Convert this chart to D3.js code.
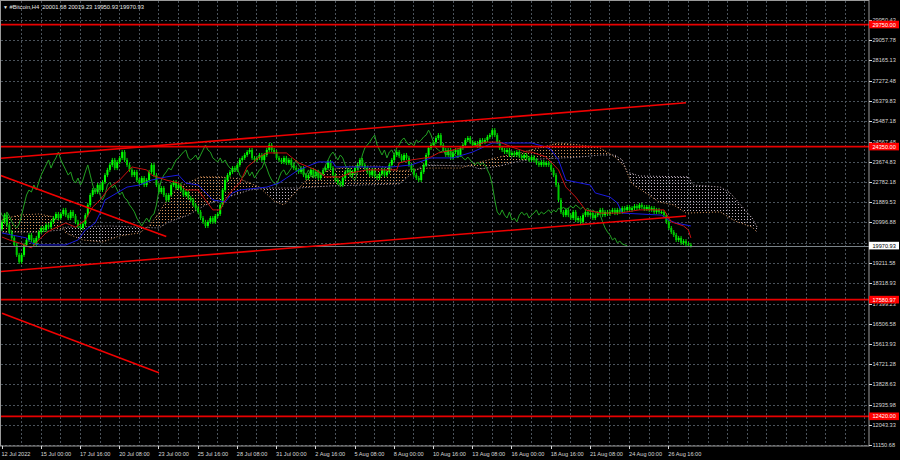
<!DOCTYPE html>
<html><head><meta charset="utf-8">
<script src="https://cdn.jsdelivr.net/npm/d3@7/dist/d3.min.js"></script>
<style>
html,body{margin:0;padding:0;background:#000;}
svg{display:block;}
text{font-family:"Liberation Sans",Arial,sans-serif;}
</style></head><body>
<svg id="c" width="900" height="460"></svg>
<script>
// ---------------- DATA ----------------
const symbolName = "#Bitcoin,H4";
const lastBarOHLC = ["20001.68", "20019.23", "19950.93", "19970.93"];
const firstOpen = 20700;
// H4 closes, 12 Jul 2022 08:00 onward (282 bars)
const closes = [
21020,21320,20880,20570,20310,20000,19560,19250,19560,20000,
20220,20440,20220,20000,20310,20570,20750,20660,20880,20790,
21020,21190,21370,21190,21370,21550,21320,21190,21460,21280,
21020,20840,20750,20930,21320,21770,22210,22430,22340,22650,
22430,22780,23090,23320,23540,23760,23400,23670,23850,24110,
23760,23540,23320,23090,23230,22870,22740,22960,22650,22870,
23230,23540,23090,22650,22340,22520,22210,21990,22210,22650,
22780,22520,22650,22430,22210,22340,22080,21990,21770,21630,
21460,21190,21020,20840,21020,21190,21020,21280,21370,21770,
22430,22870,23090,23230,23400,23320,23540,23760,23850,23980,
24110,24200,23850,23760,23850,23980,23760,23980,24200,24420,
24200,24110,23850,23760,23670,23850,23630,23760,23540,23400,
23320,23230,23400,23090,22960,23090,23320,23050,23230,22960,
23140,23320,23400,23670,23400,23090,22870,22740,22650,22960,
23230,23320,23090,23230,23400,23540,23760,23540,23400,23230,
23090,23320,23050,22960,23140,23320,23090,23230,23540,23760,
23980,24110,23930,23760,23980,23850,23540,23320,23090,22960,
22870,23230,23540,23980,24290,24420,24550,24730,24860,24420,
24200,23980,24200,23850,24110,24200,23980,24290,24420,24640,
24730,24550,24420,24510,24380,24640,24550,24640,24780,24860,
25080,24860,24550,24290,24200,24110,24200,23980,24070,23980,
24110,23930,23850,23980,23850,23760,23890,23760,23630,23540,
23670,23540,23630,23540,23320,23090,22650,21990,21460,21320,
21550,21320,21190,21460,21100,21190,21020,21320,21460,21320,
21410,21190,21320,21410,21550,21320,21460,21370,21460,21550,
21410,21550,21460,21630,21550,21680,21550,21630,21720,21630,
21770,21680,21590,21680,21550,21630,21460,21550,21460,21460,
21320,21020,20750,20570,20440,20220,20310,20090,20170,20040,20001.68,19970.93
];
// Ichimoku lines: [bar, price]
const tenkan = [[0,20350],[3,20220],[7,20090],[12,19870],[15,20220],[18,20530],[20,20660],[26,20970],[30,20790],[34,21100],[37,21680],[40,21990],[44,22560],[48,22870],[53,23450],[59,23320],[61,23090],[67,22870],[72,22740],[75,22430],[80,22430],[83,21990],[86,21550],[89,21550],[91,21990],[94,22430],[97,22740],[100,23450],[105,23890],[108,24070],[116,24070],[118,23890],[121,23630],[128,23320],[132,23010],[138,23010],[142,23180],[149,23320],[161,23320],[162,23630],[167,23760],[175,23890],[178,24070],[184,24200],[187,24290],[192,24330],[197,24550],[203,24550],[208,24330],[214,24110],[216,24110],[222,23890],[227,23320],[230,22560],[234,22120],[238,21550],[244,21410],[252,21410],[260,21550],[270,21550],[273,21020],[278,20840],[280,20660],[281,20310]];
const kijun = [[0,20530],[4,20440],[10,20310],[12,20090],[15,20000],[26,20000],[31,20220],[34,20660],[38,20970],[40,21410],[42,21990],[51,22560],[56,22650],[61,22870],[67,23010],[72,23090],[75,22740],[80,22650],[86,21990],[91,21900],[94,22300],[97,22430],[108,22560],[113,22740],[116,22960],[121,23320],[129,23670],[135,23670],[136,23450],[159,23450],[167,23540],[175,23850],[184,23850],[192,24110],[200,24510],[216,24510],[222,24330],[224,24200],[227,23760],[230,22870],[240,22650],[242,22300],[248,22120],[251,21860],[253,21410],[269,21320],[272,21100],[275,20970],[281,20840]];
const senkouA = [[-1,21100],[7,21320],[15,21370],[21,21240],[24,21020],[26,20530],[33,20220],[41,20130],[48,20400],[56,20530],[60,20840],[64,21410],[68,22120],[72,22560],[81,23010],[89,23010],[97,22920],[105,22560],[111,21940],[115,21770],[119,22250],[125,22960],[134,23320],[142,23490],[154,23490],[162,23270],[174,23400],[187,23400],[195,23670],[203,23890],[211,24070],[219,24290],[227,24510],[236,24420],[244,24290],[250,23890],[254,23450],[257,22700],[262,22340],[268,21900],[274,21770],[279,21410],[293,21460],[299,21060],[306,20790],[308,20570]];
const senkouB = [[-1,20570],[15,20570],[24,20660],[26,20790],[44,20840],[64,20750],[68,21020],[76,21320],[83,21770],[91,22080],[101,22430],[109,22520],[121,22520],[134,22610],[162,22700],[168,23230],[172,23540],[191,23490],[195,23360],[203,23490],[211,23710],[219,23800],[236,23890],[244,23980],[250,23980],[253,23760],[255,23230],[260,23050],[280,23010],[282,22650],[293,22560],[297,22300],[300,21940],[303,21550],[306,21190],[308,20790]];
const chikouShift = 26;
// price axis labels
const priceTicks = [29950.43,29057.78,28165.13,27272.48,26379.83,25487.18,24567.48,23674.83,22782.18,21889.53,20996.88,20104.23,19211.58,18318.93,17399.23,16506.58,15613.93,14721.28,13828.63,12935.98,12043.33,11150.68];
// time axis labels, one every 16 bars
const timeLabels = ["12 Jul 2022","15 Jul 00:00","17 Jul 16:00","20 Jul 08:00","23 Jul 00:00","25 Jul 16:00","28 Jul 08:00","31 Jul 00:00","2 Aug 16:00","5 Aug 08:00","8 Aug 00:00","10 Aug 16:00","13 Aug 08:00","16 Aug 00:00","18 Aug 16:00","21 Aug 08:00","24 Aug 00:00","26 Aug 16:00"];
const labelEvery = 16;
// horizontal levels and trend lines (objects on chart)
const hLevels = [29750.00, 24350.00, 17580.97, 12420.00];
const lastPrice = 19970.93;
const trendLines = [
  [[-1,23830],[279,26290]],
  [[-1,18820],[279,21280]],
  [[-1,23090],[67,20370]],
  [[0,16980],[64,14350]]
];

// ---------------- CHART ----------------
const svg = d3.select("#c");
const P = {l:1, t:1, r:869, b:446};
const barW = 2.4516;
const xs = d3.scaleLinear().domain([0, 1]).range([2, 2 + barW]);
const ys = d3.scaleLinear().domain([11150.68, 29950.43]).range([445, 20]);
const crisp = v => Math.round(v) + 0.5;

svg.append("rect").attr("width", 900).attr("height", 460).attr("fill", "#000");
const defs = svg.append("defs");
defs.append("clipPath").attr("id", "plotClip").append("rect")
  .attr("x", P.l).attr("y", P.t).attr("width", P.r - P.l).attr("height", P.b - P.t);

function pat(id, col) {
  const p = defs.append("pattern").attr("id", id).attr("patternUnits", "userSpaceOnUse")
    .attr("width", 3).attr("height", 3);
  p.append("rect").attr("x", 0).attr("y", 0).attr("width", 1).attr("height", 1).attr("fill", col);
}
pat("pSandy", "#d8945c");
pat("pThistle", "#c0b2c0");

const lineXY = d3.line().x(d => xs(d[0])).y(d => ys(d[1]));

// grid
const grid = svg.append("g").attr("stroke", "#4a525a").attr("stroke-dasharray", "2,2").attr("stroke-width", 1);
grid.selectAll("line.h").data(priceTicks).join("line")
  .attr("x1", P.l).attr("x2", P.r).attr("y1", d => crisp(ys(d))).attr("y2", d => crisp(ys(d)));
const vBars = d3.range(8, 400, 8).filter(b => xs(b) < P.r - 1);
grid.selectAll("line.v").data(vBars).join("line")
  .attr("y1", P.t).attr("y2", P.b).attr("x1", d => crisp(xs(d) - 0.5)).attr("x2", d => crisp(xs(d) - 0.5));

const plot = svg.append("g").attr("clip-path", "url(#plotClip)");

// cloud
const aPath = lineXY(senkouA);
const bPath = lineXY(senkouB);
const bRev = lineXY(senkouB.slice().reverse());
const band = aPath + "L" + bRev.slice(1) + "Z";
const xS = xs(-1), xE = xs(308);
defs.append("clipPath").attr("id", "aboveB").append("path")
  .attr("d", bPath + `L${xE},${P.t}L${xS},${P.t}Z`);
defs.append("clipPath").attr("id", "belowB").append("path")
  .attr("d", bPath + `L${xE},${P.b}L${xS},${P.b}Z`);
plot.append("g").attr("clip-path", "url(#aboveB)").append("path").attr("d", band).attr("fill", "url(#pSandy)");
plot.append("g").attr("clip-path", "url(#belowB)").append("path").attr("d", band).attr("fill", "url(#pThistle)");
plot.append("path").attr("d", aPath).attr("fill", "none").attr("stroke", "#d8945c").attr("stroke-width", 1).attr("stroke-dasharray", "1,2");
plot.append("path").attr("d", bPath).attr("fill", "none").attr("stroke", "#c0b2c0").attr("stroke-width", 1).attr("stroke-dasharray", "1,2");

// candles
const candles = closes.map((c, i) => ({i, o: i === 0 ? firstOpen : closes[i - 1], c}));
const cg = plot.append("g");
cg.selectAll("line").data(candles).join("line")
  .attr("x1", d => xs(d.i)).attr("x2", d => xs(d.i))
  .attr("y1", d => Math.min(ys(d.o), ys(d.c)) - 2)
  .attr("y2", d => Math.max(ys(d.o), ys(d.c)) + 2)
  .attr("stroke", "#00e000").attr("stroke-width", 1);
cg.selectAll("rect").data(candles).join("rect")
  .attr("x", d => xs(d.i) - 1).attr("width", 2)
  .attr("y", d => Math.min(ys(d.o), ys(d.c)))
  .attr("height", d => Math.max(1.2, Math.abs(ys(d.o) - ys(d.c))))
  .attr("fill", d => d.c >= d.o ? "#00ff00" : "#00c800");

// chikou span (closes shifted back)
plot.append("path")
  .attr("d", d3.line().x((d, i) => xs(i - chikouShift)).y(d => ys(d))(closes))
  .attr("fill", "none").attr("stroke", "#22a022").attr("stroke-width", 1);
// kijun & tenkan
plot.append("path").attr("d", lineXY(kijun)).attr("fill", "none").attr("stroke", "#1a1ae0").attr("stroke-width", 1);
plot.append("path").attr("d", lineXY(tenkan)).attr("fill", "none").attr("stroke", "#c81010").attr("stroke-width", 1);

// bid line
plot.append("line").attr("x1", P.l).attr("x2", P.r)
  .attr("y1", crisp(ys(lastPrice))).attr("y2", crisp(ys(lastPrice)))
  .attr("stroke", "#7a8288").attr("stroke-width", 1);

// horizontal levels
plot.selectAll("line.lvl").data(hLevels).join("line")
  .attr("x1", P.l).attr("x2", P.r).attr("y1", d => ys(d)).attr("y2", d => ys(d))
  .attr("stroke", "#e80000").attr("stroke-width", 1.8);
// trend lines
plot.selectAll("path.tl").data(trendLines).join("path")
  .attr("d", d => lineXY(d)).attr("fill", "none")
  .attr("stroke", "#f00000").attr("stroke-width", 1.6);

// frame
svg.append("rect").attr("x", P.l - 0.5).attr("y", P.t - 0.5).attr("width", P.r - P.l + 0.5).attr("height", P.b - P.t + 0.5)
  .attr("fill", "none").attr("stroke", "#9a9a9a").attr("stroke-width", 1);

// price axis
const ax = svg.append("g").attr("font-size", "5.6px").attr("fill", "#d8d8d8");
const visTicks = priceTicks.filter(v => Math.abs(ys(v) - ys(lastPrice)) > 4);
ax.selectAll("line").data(priceTicks).join("line")
  .attr("x1", P.r).attr("x2", P.r + 3).attr("y1", d => crisp(ys(d))).attr("y2", d => crisp(ys(d)))
  .attr("stroke", "#d8d8d8");
ax.selectAll("text").data(visTicks).join("text")
  .attr("x", 872.5).attr("y", d => ys(d) + 2).text(d => d.toFixed(2));

// level labels
const lg = svg.append("g").attr("font-size", "5.6px");
hLevels.forEach(v => {
  const y = ys(v);
  lg.append("rect").attr("x", 869).attr("y", y - 3.8).attr("width", 30).attr("height", 7.6).attr("fill", "#ff0000");
  lg.append("text").attr("x", 872.5).attr("y", y + 2).attr("fill", "#ffffff").text(v.toFixed(2));
});
{
  const y = ys(lastPrice);
  lg.append("rect").attr("x", 869).attr("y", y - 3.8).attr("width", 30).attr("height", 7.6).attr("fill", "#ffffff");
  lg.append("text").attr("x", 872.5).attr("y", y + 2).attr("fill", "#000000").text(lastPrice.toFixed(2));
}

// time axis
const tx = svg.append("g").attr("font-size", "5.6px").attr("fill", "#d8d8d8");
const tData = timeLabels.map((t, k) => ({t, b: k * labelEvery}));
tx.selectAll("line").data(tData).join("line")
  .attr("x1", d => crisp(xs(d.b) - 0.5)).attr("x2", d => crisp(xs(d.b) - 0.5))
  .attr("y1", P.b).attr("y2", P.b + 3).attr("stroke", "#d8d8d8");
tx.selectAll("text").data(tData).join("text")
  .attr("x", d => xs(d.b) - 0.5).attr("y", 455.5).text(d => d.t);

// title
const tg = svg.append("g").attr("font-size", "5.8px").attr("fill", "#e8e8e8");
tg.append("text").attr("x", 3).attr("y", 8.5).attr("font-size", "5px").text("▼");
tg.append("text").attr("x", 9.5).attr("y", 8.5).attr("xml:space", "preserve")
  .text(symbolName + "  " + lastBarOHLC.join(" "));
</script>
</body></html>
